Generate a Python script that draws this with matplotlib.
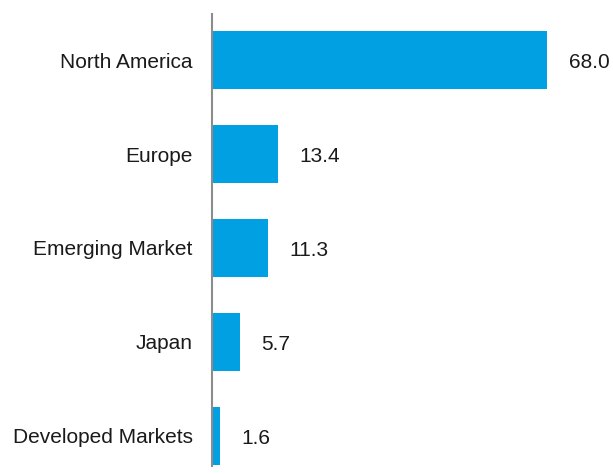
import matplotlib.pyplot as plt

plt.rcParams["font.family"] = ["Liberation Sans", "DejaVu Sans"]

regions = ["North America", "Europe", "Emerging Market", "Japan", "Developed Markets"]
weights = [68.0, 13.4, 11.3, 5.7, 1.6]

fig = plt.figure(figsize=(6.13, 4.74), dpi=100)
ax = fig.add_axes([212 / 613, 8 / 474, 401 / 613, 452 / 474])

pos = list(range(len(regions)))
ax.barh(pos, weights, height=0.62, color="#00A0E3", edgecolor="none")

for y, v in zip(pos, weights):
    ax.annotate("%.1f" % v, xy=(v, y), xytext=(15.5, -1.5), textcoords="offset points",
                ha="left", va="center", fontsize=15, color="#1a1a1a")

ax.set_xlim(0, 401 / 4.93)
ax.set_ylim(4.32, -0.49)
ax.set_yticks(pos)
ax.set_yticklabels(regions, fontsize=15, color="#1a1a1a", va="center_baseline")
ax.tick_params(axis="y", length=0, pad=14)
ax.set_xticks([])
for s in ["top", "right", "bottom"]:
    ax.spines[s].set_visible(False)
ax.spines["left"].set_color("#8c8c8c")
ax.spines["left"].set_linewidth(1.5)

fig.savefig("out.png", dpi=100)
